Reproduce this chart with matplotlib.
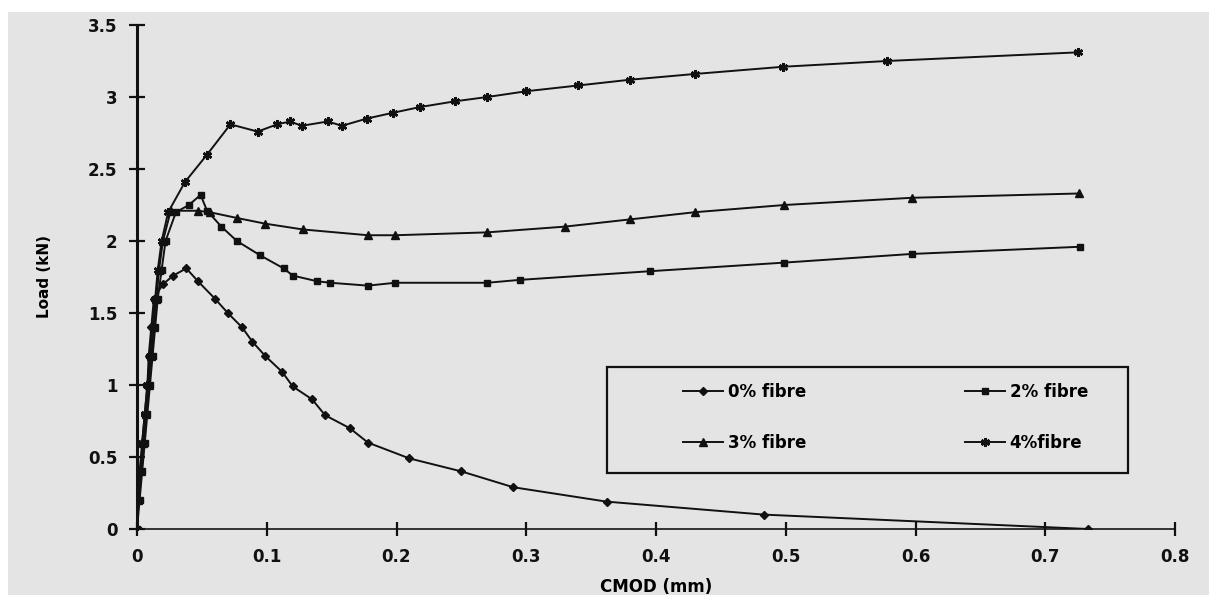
import matplotlib
matplotlib.use('Agg')
import matplotlib.pyplot as plt
from matplotlib.patches import Rectangle

## plt config
plt.rcParams['font.family'] = ['DejaVu Sans']
plt.rcParams['font.weight'] = 'bold'

## Load-CMOD data for each fibre content
cmod_0 = [0, 0.001, 0.003, 0.004, 0.006, 0.008, 0.009, 0.011, 0.013, 0.020, 0.028, 0.038,
          0.047, 0.060, 0.070, 0.081, 0.089, 0.099, 0.112, 0.120, 0.135, 0.145, 0.164,
          0.178, 0.210, 0.250, 0.290, 0.362, 0.483, 0.733]
load_0 = [0, 0.2, 0.4, 0.6, 0.8, 1.0, 1.2, 1.4, 1.6, 1.7, 1.76, 1.81,
          1.72, 1.6, 1.5, 1.4, 1.3, 1.2, 1.09, 0.99, 0.9, 0.79, 0.7,
          0.6, 0.49, 0.4, 0.29, 0.19, 0.10, 0.0]

cmod_2 = [0, 0.002, 0.004, 0.006, 0.008, 0.010, 0.012, 0.014, 0.016, 0.019, 0.022, 0.030,
          0.040, 0.049, 0.054, 0.065, 0.077, 0.095, 0.113, 0.120, 0.139, 0.149, 0.178,
          0.199, 0.270, 0.295, 0.395, 0.499, 0.597, 0.727]
load_2 = [0, 0.2, 0.4, 0.6, 0.8, 1.0, 1.2, 1.4, 1.6, 1.8, 2.0, 2.2,
          2.25, 2.32, 2.21, 2.1, 2.0, 1.9, 1.81, 1.76, 1.72, 1.71, 1.69,
          1.71, 1.71, 1.73, 1.79, 1.85, 1.91, 1.96]

cmod_3 = [0, 0.001, 0.003, 0.005, 0.007, 0.009, 0.011, 0.013, 0.015, 0.017, 0.020, 0.026,
          0.047, 0.056, 0.077, 0.099, 0.128, 0.178, 0.199, 0.270, 0.330, 0.380, 0.430,
          0.499, 0.597, 0.726]
load_3 = [0, 0.2, 0.4, 0.6, 0.8, 1.0, 1.2, 1.4, 1.6, 1.8, 2.0, 2.21,
          2.21, 2.2, 2.16, 2.12, 2.08, 2.04, 2.04, 2.06, 2.1, 2.15, 2.2,
          2.25, 2.3, 2.33]

cmod_4 = [0, 0.001, 0.002, 0.004, 0.006, 0.008, 0.010, 0.012, 0.014, 0.016, 0.019, 0.024,
          0.037, 0.054, 0.072, 0.093, 0.108, 0.118, 0.127, 0.147, 0.158, 0.177, 0.197,
          0.218, 0.245, 0.270, 0.300, 0.340, 0.380, 0.430, 0.498, 0.578, 0.725]
load_4 = [0, 0.2, 0.4, 0.6, 0.8, 1.0, 1.2, 1.4, 1.6, 1.8, 2.0, 2.2,
          2.41, 2.6, 2.81, 2.76, 2.81, 2.83, 2.8, 2.83, 2.8, 2.85, 2.89,
          2.93, 2.97, 3.0, 3.04, 3.08, 3.12, 3.16, 3.21, 3.25, 3.31]

x_ticks = [0, 0.1, 0.2, 0.3, 0.4, 0.5, 0.6, 0.7, 0.8]
x_tick_labels = ['0', '0.1', '0.2', '0.3', '0.4', '0.5', '0.6', '0.7', '0.8']
y_ticks = [0, 0.5, 1, 1.5, 2, 2.5, 3, 3.5]
y_tick_labels = ['0', '0.5', '1', '1.5', '2', '2.5', '3', '3.5']

## visualization
fig = plt.figure(figsize=(12.09, 5.95), dpi=100)
fig.patch.set_facecolor('white')
fig.add_artist(Rectangle((8 / 1209, 0), 1, 1 - 12 / 595, transform=fig.transFigure,
                         facecolor='#e4e4e4', edgecolor='none', zorder=-10))

ax = fig.add_axes([137 / 1209, 1 - 529 / 595, 1038 / 1209, 504 / 595])
ax.set_facecolor('none')

line_kw = dict(color='#111111', lw=1.4, mec='#111111', mfc='#111111')
h0, = ax.plot(cmod_0, load_0, marker='D', ms=3.8, label='0% fibre', **line_kw)
h2, = ax.plot(cmod_2, load_2, marker='s', ms=4.8, label='2% fibre', **line_kw)
h3, = ax.plot(cmod_3, load_3, marker='^', ms=5.2, label='3% fibre', **line_kw)
h4, = ax.plot(cmod_4, load_4, marker=(6, 2, 0), ms=6.5, mew=1.8, label='4%fibre', **line_kw)

ax.set_xlim(0, 0.8)
ax.set_ylim(0, 3.5)
ax.set_xticks(x_ticks)
ax.set_xticklabels(x_tick_labels)
ax.set_yticks(y_ticks)
ax.set_yticklabels(y_tick_labels)

for side in ['top', 'right']:
    ax.spines[side].set_visible(False)
ax.spines['left'].set_linewidth(2.2)
ax.spines['left'].set_color('#111111')
ax.spines['bottom'].set_linewidth(1.4)
ax.spines['bottom'].set_color('#333333')
ax.spines['left'].set_zorder(1)
ax.spines['bottom'].set_zorder(1)

ax.tick_params(axis='y', direction='inout', length=12, width=1.6, pad=8,
               labelsize=12, colors='#111111')
ax.tick_params(axis='x', direction='inout', length=10, width=1.6, pad=9,
               labelsize=12, colors='#111111')

ax.set_xlabel('CMOD (mm)', fontsize=12, fontweight='bold')
ax.set_ylabel('Load (kN)', fontsize=11, fontweight='bold')
ax.xaxis.set_label_coords(0.5, -0.098)
ax.yaxis.set_label_coords(-0.082, 0.5)

## legend box
ax.add_patch(Rectangle((0.4528, 0.1111), 0.5019, 0.2103, transform=ax.transAxes,
                       facecolor='none', edgecolor='#111111', lw=1.6, zorder=3,
                       clip_on=False))
ax.legend(handles=[h0, h3, h2, h4], ncol=2, frameon=False, loc='upper left',
          bbox_to_anchor=(0.526, 0.29), borderpad=0, borderaxespad=0,
          handlelength=2.4, handletextpad=0.3, labelspacing=2.0, columnspacing=9.5,
          numpoints=1, prop={'weight': 'bold', 'size': 12})

plt.savefig('out.png', dpi=100)
